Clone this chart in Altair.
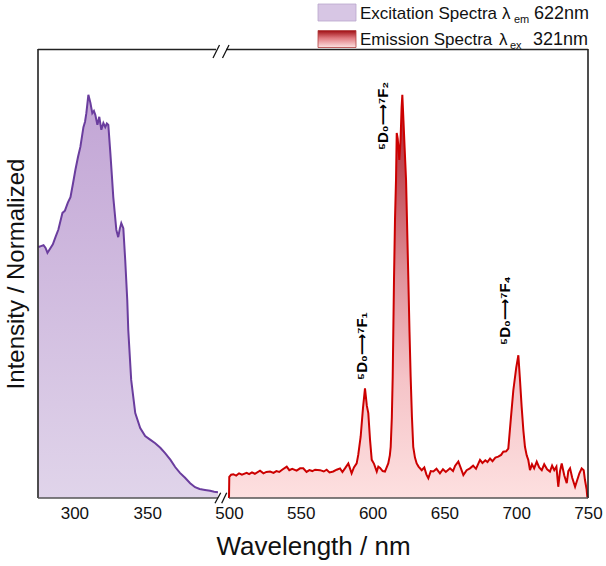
import altair as alt
import pandas as pd

# ---------------- data ----------------
ex_nm = [275.3, 277.0, 278.8, 280.2, 281.5, 283.6, 285.2, 287.0, 289.0, 291.8, 293.5, 295.5, 297.3,
         299.0, 300.7, 302.5, 304.1, 306.2, 307.3, 308.2, 309.6, 311.0, 312.3, 313.4, 314.4, 315.8,
         317.1, 318.5, 319.9, 321.2, 322.3, 323.3, 324.7, 325.7, 326.7, 328.8, 330.1, 331.2, 332.2,
         333.6, 334.9, 336.3, 337.0, 339.0, 341.8, 345.2, 348.6, 352.0, 355.5, 359.0, 362.3, 366.0,
         369.2, 372.5, 376.0, 379.5, 382.9, 386.0, 389.7, 393.2, 396.0, 398.6]
ex_val = [0.559, 0.561, 0.563, 0.557, 0.546, 0.557, 0.565, 0.581, 0.598, 0.635, 0.640, 0.658, 0.670,
          0.700, 0.731, 0.760, 0.782, 0.826, 0.838, 0.857, 0.898, 0.880, 0.857, 0.862, 0.853, 0.831,
          0.849, 0.820, 0.835, 0.826, 0.834, 0.831, 0.768, 0.720, 0.670, 0.597, 0.581, 0.600, 0.612,
          0.601, 0.530, 0.441, 0.374, 0.263, 0.189, 0.156, 0.138, 0.130, 0.122, 0.112, 0.100, 0.085,
          0.069, 0.056, 0.045, 0.033, 0.024, 0.020, 0.018, 0.016, 0.014, 0.013]

em_nm = [500.0, 500.2, 501.5, 503.0, 505.0, 507.0, 509.0, 512.3, 514.0, 516.0, 518.0, 521.6, 524.0,
         526.0, 528.6, 531.0, 533.0, 535.0, 537.0, 540.2, 542.0, 544.0, 547.1, 549.5, 551.7, 554.0,
         556.0, 558.0, 560.0, 563.4, 566.0, 568.0, 570.0, 572.6, 575.0, 577.3, 579.0, 581.0, 583.1,
         585.4, 587.0, 588.9, 590.0, 591.7, 593.3, 594.7, 596.0, 597.0, 598.2, 599.4, 601.0, 602.9,
         604.0, 605.2, 607.0, 608.6, 610.0, 610.9, 612.0, 612.6, 613.4, 614.0, 614.9, 615.6, 616.3,
         616.8, 617.5, 618.6, 619.5, 620.2, 620.7, 621.5, 622.3, 623.3, 624.9, 625.7, 626.5, 627.4,
         628.3, 629.5, 630.7, 632.0, 634.2, 636.0, 637.5, 638.8, 640.5, 642.3, 644.5, 646.9, 649.0,
         651.0, 653.9, 656.0, 657.5, 659.7, 661.5, 663.2, 665.5, 667.8, 670.0, 672.0, 674.8, 676.5,
         678.5, 680.0, 681.8, 683.5, 685.5, 687.5, 689.5, 691.0, 693.0, 694.5, 696.2, 698.0, 700.0,
         701.5, 702.5, 703.8, 705.0, 706.1, 707.3, 708.4, 709.6, 711.0, 712.5, 714.3, 716.0, 717.8,
         719.5, 721.5, 723.5, 725.0, 726.5, 728.0, 729.3, 730.5, 731.7, 733.5, 735.2, 736.3, 737.5,
         739.0, 741.0, 742.5, 744.0, 745.6, 747.0, 747.9, 749.0, 749.5, 750.0]
em_val = [0.0, 0.047, 0.052, 0.053, 0.050, 0.055, 0.052, 0.056, 0.053, 0.057, 0.054, 0.061, 0.055,
          0.058, 0.059, 0.056, 0.060, 0.058, 0.063, 0.070, 0.062, 0.065, 0.061, 0.066, 0.066, 0.058,
          0.062, 0.060, 0.063, 0.062, 0.059, 0.063, 0.057, 0.059, 0.063, 0.066, 0.058, 0.067, 0.077,
          0.055, 0.068, 0.077, 0.096, 0.137, 0.200, 0.244, 0.205, 0.189, 0.130, 0.085, 0.076, 0.059,
          0.070, 0.067, 0.060, 0.059, 0.070, 0.077, 0.095, 0.114, 0.180, 0.270, 0.486, 0.620, 0.708,
          0.813, 0.800, 0.753, 0.800, 0.870, 0.898, 0.840, 0.780, 0.708, 0.486, 0.370, 0.270, 0.180,
          0.114, 0.090, 0.077, 0.070, 0.062, 0.068, 0.052, 0.044, 0.060, 0.059, 0.065, 0.055, 0.064,
          0.058, 0.066, 0.060, 0.072, 0.081, 0.066, 0.051, 0.062, 0.066, 0.072, 0.065, 0.085, 0.078,
          0.084, 0.080, 0.088, 0.082, 0.090, 0.092, 0.096, 0.103, 0.104, 0.110, 0.174, 0.240, 0.290,
          0.318, 0.270, 0.203, 0.150, 0.114, 0.095, 0.085, 0.062, 0.075, 0.066, 0.081, 0.068, 0.062,
          0.075, 0.064, 0.059, 0.072, 0.062, 0.070, 0.025, 0.060, 0.077, 0.050, 0.033, 0.060, 0.066,
          0.045, 0.025, 0.040, 0.055, 0.066, 0.062, 0.040, 0.020, 0.003, 0.0]

tick_values = [300, 350, 500, 550, 600, 650, 700, 750]

annot_text = ["⁵D₀⟶⁷F₁", "⁵D₀⟶⁷F₂", "⁵D₀⟶⁷F₄"]
annot_nm = [592.6, 607.2, 692.2]
annot_val = [0.263, 0.775, 0.341]

FONT = "Liberation Sans, Arial, DejaVu Sans"

ex_df = pd.DataFrame({"nm": ex_nm, "val": ex_val})
em_df = pd.DataFrame({"nm": em_nm, "val": em_val})
ann_df = pd.DataFrame({"nm": annot_nm, "val": annot_val, "t": annot_text})
one = pd.DataFrame({"k": [0]})

xscale = alt.Scale(domain=[275, 400, 500, 750], range=[0, 182, 191, 550], nice=False, zero=False)
yscale = alt.Scale(domain=[0, 1], nice=False, zero=True)

xaxis = alt.Axis(values=tick_values, domain=False, ticks=False, tickSize=0, grid=False,
                 labelFont=FONT, labelFontSize=17, labelColor="#111", labelPadding=7,
                 titleFont=FONT, titleFontSize=26, titleFontWeight="normal", titleColor="#111",
                 titlePadding=12, labelFlush=False)
yaxis = alt.Axis(domain=False, ticks=False, labels=False, grid=False,
                 titleFont=FONT, titleFontSize=24, titleFontWeight="normal", titleColor="#111",
                 titlePadding=10)

XT = "Wavelength / nm"
YT = "Intensity / Normalized"


def X():
    return alt.X("nm:Q", scale=xscale, axis=xaxis, title=XT)


def Y():
    return alt.Y("val:Q", scale=yscale, axis=yaxis, title=YT)


grad_ex = alt.LinearGradient(gradient="linear", x1=0, x2=0, y1=0, y2=1,
                             stops=[alt.GradientStop(color="#c2a5d5", offset=0),
                                    alt.GradientStop(color="#e0d4ea", offset=1)])
grad_em = alt.LinearGradient(gradient="linear", x1=0, x2=0, y1=0, y2=1,
                             stops=[alt.GradientStop(color="#b01e28", offset=0),
                                    alt.GradientStop(color="#c24e58", offset=0.2),
                                    alt.GradientStop(color="#e0939c", offset=0.45),
                                    alt.GradientStop(color="#f5c3c7", offset=0.7),
                                    alt.GradientStop(color="#fde0e0", offset=1)])
grad_em_leg = alt.LinearGradient(gradient="linear", x1=0, x2=0, y1=0, y2=1,
                                 stops=[alt.GradientStop(color="#9e0d12", offset=0),
                                        alt.GradientStop(color="#e07a80", offset=0.45),
                                        alt.GradientStop(color="#fde2e2", offset=1)])

ex_area = alt.Chart(ex_df).mark_area(color=grad_ex).encode(x=X(), y=Y())
ex_line = alt.Chart(ex_df).mark_line(color="#6a3d9e", strokeWidth=2).encode(x=X(), y=Y())
em_area = alt.Chart(em_df).mark_area(color=grad_em).encode(x=X(), y=Y())
em_line = alt.Chart(em_df).mark_line(color="#cc0000", strokeWidth=2).encode(x=X(), y=Y())

ann = alt.Chart(ann_df).mark_text(font=FONT, fontSize=15, fontWeight="bold", angle=270,
                                  align="left", baseline="middle", color="#000").encode(
    x=X(), y=Y(), text="t:N")


def prule(x1, x2, y1, y2, color="#222", w=1.6):
    return alt.Chart(one).mark_rule(color=color, strokeWidth=w).encode(
        x=alt.value(x1), x2=alt.value(x2), y=alt.value(y1), y2=alt.value(y2))


def ptext(s, x, y, size=17, color="#111"):
    return alt.Chart(one).mark_text(font=FONT, fontSize=size, align="left", baseline="alphabetic",
                                    color=color).encode(x=alt.value(x), y=alt.value(y), text=alt.value(s))


def prect(x1, x2, y1, y2, fill, stroke):
    return alt.Chart(one).mark_rect(color=fill, stroke=stroke, strokeWidth=0.8).encode(
        x=alt.value(x1), x2=alt.value(x2), y=alt.value(y1), y2=alt.value(y2))


frame = [
    prule(0, 0, 0, 449),                 # left
    prule(550, 550, 0, 449),             # right
    prule(0, 178, 0.5, 0.5),             # top left part
    prule(188, 550, 0.5, 0.5),           # top right part
    prule(0, 180, 449, 449, "#555"),     # bottom left part
    prule(191, 550, 449, 449, "#555"),   # bottom right part
    prule(175, 181.5, 9, -4, "#111", 1.3),
    prule(184.5, 191, 9, -4, "#111", 1.3),
    prule(177, 182.7, 454.3, 443.7, "#111", 1.3),
    prule(183.7, 188.7, 454.3, 443.7, "#111", 1.3),
]

legend = [
    prect(280, 318, -45, -28, "#d7c6e4", "#b9a6cc"),
    prect(280, 318, -18.5, -1.5, grad_em_leg, "#b04040"),
    ptext("Excitation Spectra", 322, -30.5),
    ptext("λ", 464, -30.5),
    ptext("em", 476, -26, 11),
    ptext("622nm", 496, -30.5, 18),
    ptext("Emission Spectra", 322, -4),
    ptext("λ", 461, -4),
    ptext("ex", 472, 0, 11),
    ptext("321nm", 495, -4, 18),
]

chart = alt.layer(ex_area, ex_line, em_area, em_line, ann, *frame, *legend).properties(
    width=550, height=449,
    autosize=alt.AutoSizeParams(type="none"),
    padding={"left": 38, "top": 49, "right": 18, "bottom": 68},
).configure_view(stroke=None)

chart.save("out.html", embed_options={"renderer": "svg", "actions": False})
